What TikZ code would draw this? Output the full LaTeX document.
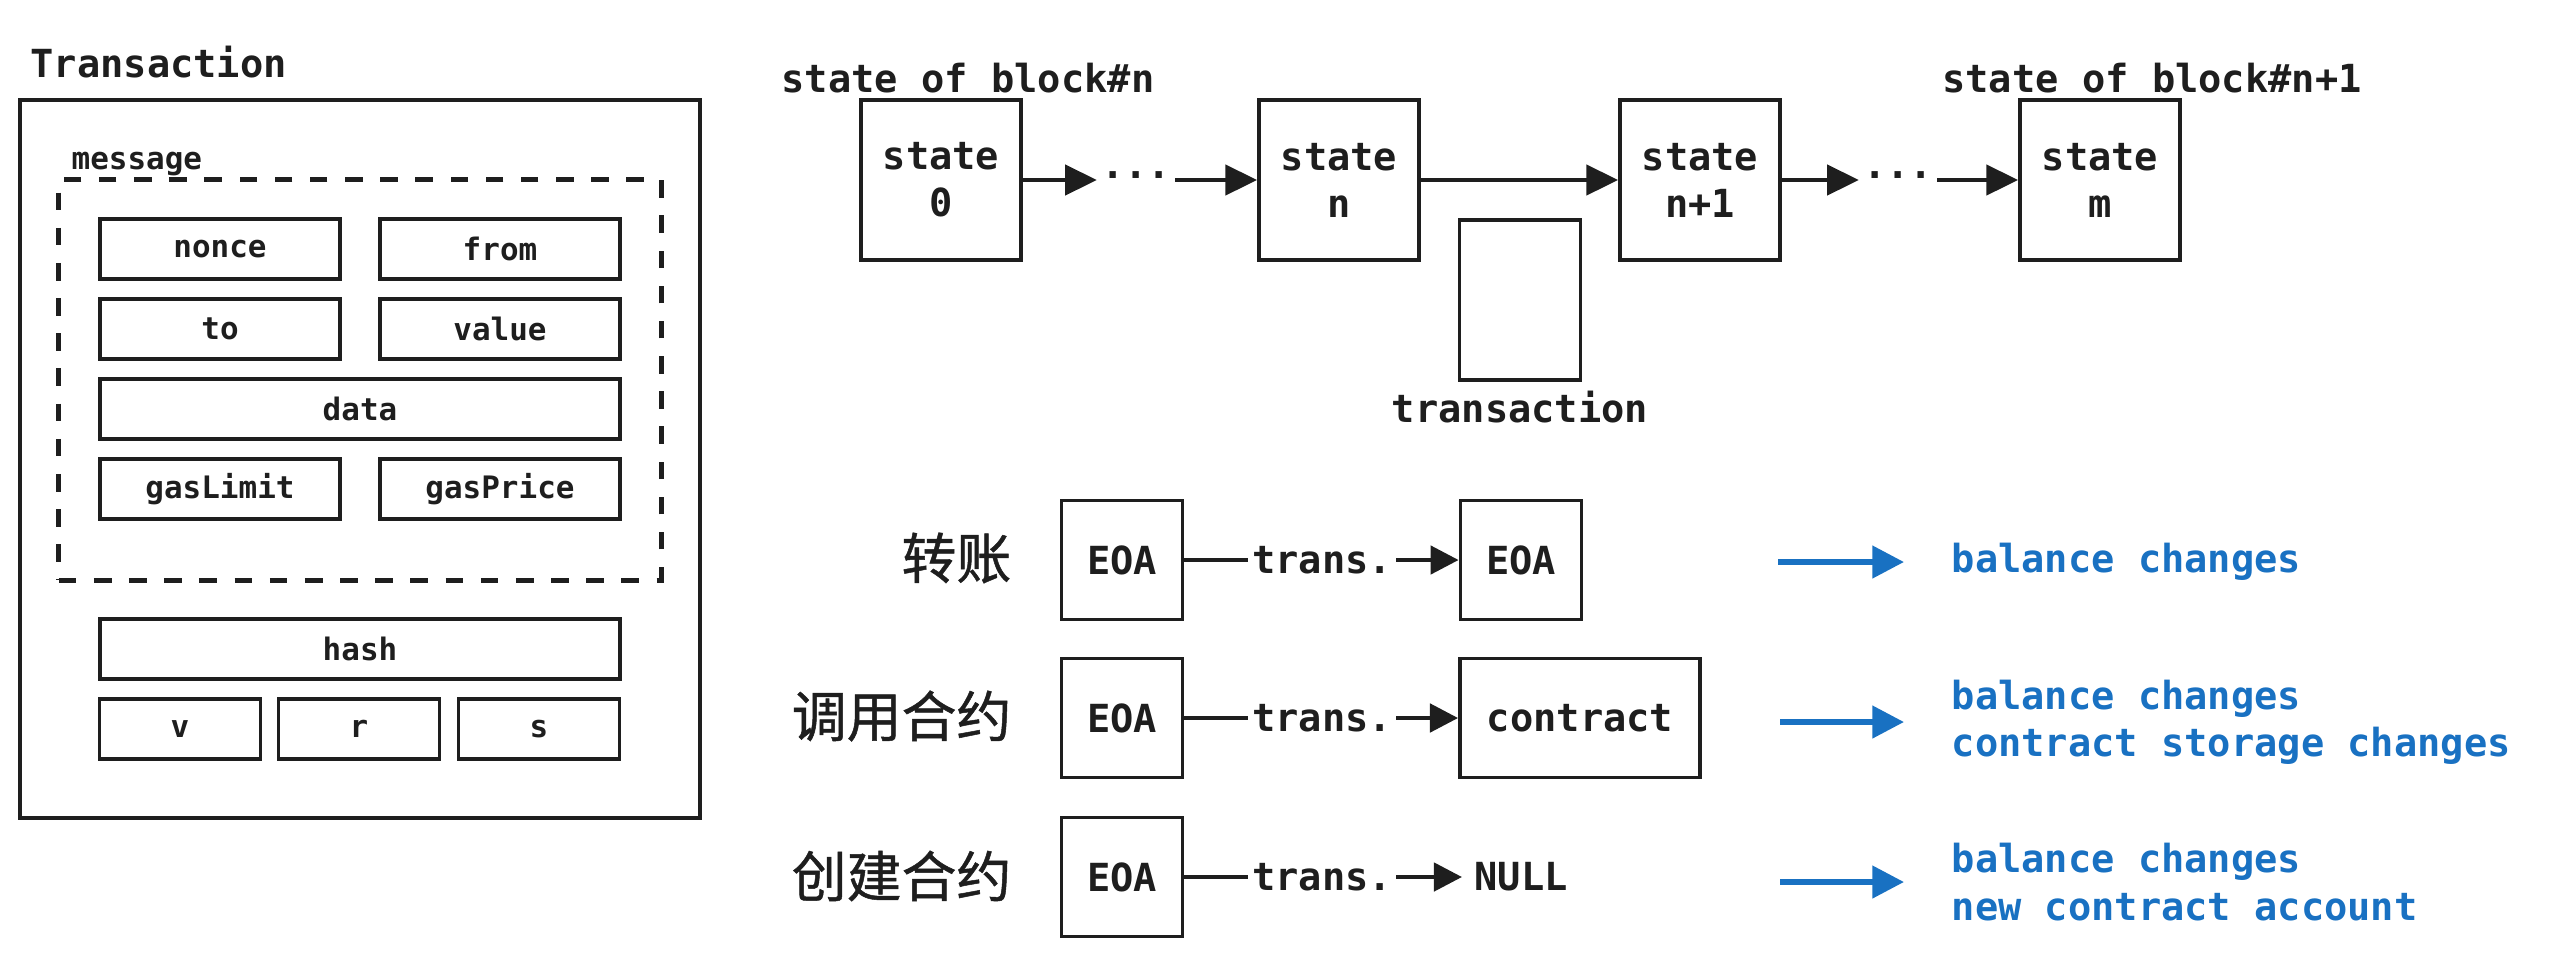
\documentclass[tikz,border=0pt]{standalone}
\usepackage{fontspec}
\setmonofont{DejaVu Sans Mono}
\newfontfamily\cjkfont{Noto Sans CJK SC}[FakeBold=0.9]
\usetikzlibrary{positioning,arrows.meta}
\definecolor{ink}{HTML}{1E1E1E}
\definecolor{note}{HTML}{1971C2}

\begin{document}
\begin{tikzpicture}[x=0.01cm, y=-0.01cm, color=ink, font=\ttfamily\bfseries\fontsize{11pt}{13.4pt}\selectfont]
    \tikzset{field/.style={draw, line width=1.05pt, minimum width=2.4cm, minimum height=0.6cm, inner sep=0pt, font=\ttfamily\bfseries\fontsize{8.8pt}{10pt}\selectfont},
             statebox/.style={draw, line width=1.05pt, minimum width=1.6cm, minimum height=1.6cm, inner sep=0pt, align=center},
             eoabox/.style={draw, line width=1.05pt, minimum width=1.21cm, minimum height=1.19cm, inner sep=0pt},
             myarrow/.style={-{Triangle[length=9pt, width=8.5pt]}, line width=1.3pt},
             bluearrow/.style={-{Triangle[length=9pt, width=9pt]}, line width=1.6pt, note, shorten >=0.47cm},
             result/.style={note, anchor=west, align=left, inner sep=0pt},
             cjk/.style={anchor=east, inner sep=0pt, font=\cjkfont\fontsize{15.6pt}{18pt}\selectfont}}

    \useasboundingbox (0,0) rectangle (2560,960);

    % transaction fields
    \draw node[anchor=west, inner sep=0pt] (txtitle) at (30,62) {Transaction};
    \draw node[draw, line width=1.05pt, minimum width=6.8cm, minimum height=7.18cm] (txbox) at (360,459) {};
    \draw node[draw, dashed, dash pattern=on 5pt off 5pt, line width=1.4pt, minimum width=6.02cm, minimum height=4cm] (msgbox) at (360,380) {};
    \draw node[anchor=base west, inner sep=0pt, font=\ttfamily\bfseries\fontsize{8.8pt}{10pt}\selectfont] (msgtitle) at (71,169) {message};
    \draw node[field] (nonce) at (220,249) {nonce};
    \draw node[field] (from) at (500,249) {from};
    \draw node[field] (to) at (220,329) {to};
    \draw node[field] (value) at (500,329) {value};
    \draw node[field, minimum width=5.2cm] (data) at (360,409) {data};
    \draw node[field] (gaslimit) at (220,489) {gasLimit};
    \draw node[field] (gasprice) at (500,489) {gasPrice};
    \draw node[field, minimum width=5.2cm] (hash) at (360,649) {hash};
    \draw node[field, minimum width=1.61cm] (sigv) at (180,729) {v};
    \draw node[field, minimum width=1.61cm] (sigr) at (359,729) {r};
    \draw node[field, minimum width=1.61cm] (sigs) at (539,729) {s};

    % state chain
    \draw node (blockn) at (968,78) {state of block\#n};
    \draw node (blocknext) at (2152,78) {state of block\#n+1};
    \draw node[statebox] (state0) at (941,180) {state\\0};
    \draw node[inner xsep=1pt, inner ysep=0pt] (dotsa) at (1136,180) {···};
    \draw node[statebox] (staten) at (1339,180) {state\\n};
    \draw node[statebox] (statenext) at (1700,180) {state\\n+1};
    \draw node[inner xsep=1pt, inner ysep=0pt] (dotsb) at (1898,180) {···};
    \draw node[statebox] (statem) at (2100,180) {state\\m};
    \draw node[draw, line width=1.05pt, minimum width=1.21cm, minimum height=1.6cm] (txrect) at (1520,300) {};
    \draw node (txlabel) at (1520,407) {transaction};

    \draw[myarrow] (state0) -- (dotsa);
    \draw[myarrow] (dotsa) -- (staten);
    \draw[myarrow] (staten) -- (statenext);
    \draw[myarrow] (statenext) -- (dotsb);
    \draw[myarrow] (dotsb) -- (statem);

    % three kinds of transaction
    \draw node[cjk] (transfer) at (1012,558) {转账};
    \draw node[cjk] (call) at (1012,716) {调用合约};
    \draw node[cjk] (create) at (1012,876) {创建合约};

    \draw node[eoabox] (eoaa) at (1122,560) {EOA};
    \draw node[eoabox] (eoab) at (1122,718) {EOA};
    \draw node[eoabox] (eoac) at (1122,877) {EOA};
    \draw node[inner xsep=1pt] (transa) at (1322,560) {trans.};
    \draw node[inner xsep=1pt] (transb) at (1322,718) {trans.};
    \draw node[inner xsep=1pt] (transc) at (1322,877) {trans.};
    \draw node[eoabox] (eoato) at (1521,560) {EOA};
    \draw node[eoabox, minimum width=2.4cm] (contract) at (1580,718) {contract};
    \draw node[anchor=west] (null) at (1462,877) {NULL};

    \draw[line width=1.3pt] (eoaa) -- (transa);
    \draw[line width=1.3pt] (eoab) -- (transb);
    \draw[line width=1.3pt] (eoac) -- (transc);
    \draw[myarrow, -{Triangle[length=8pt, width=8pt]}] (transa) -- (eoato);
    \draw[myarrow, -{Triangle[length=8pt, width=8pt]}] (transb) -- (contract);
    \draw[myarrow, -{Triangle[length=8pt, width=8pt]}] (transc) -- (null);

    % effects
    \draw node[result] (resa) at (1951,562) {balance changes};
    \draw node[result] (resb) at (1951,722) {balance changes\\contract storage changes};
    \draw node[result] (resc) at (1951,882) {balance changes\\new contract account};
    \coordinate (starta) at (1778,562);
    \coordinate (startb) at (1780,722);
    \coordinate (startc) at (1780,882);
    \draw[bluearrow] (starta) -- (starta -| resa.west);
    \draw[bluearrow] (startb) -- (startb -| resb.west);
    \draw[bluearrow] (startc) -- (startc -| resc.west);
\end{tikzpicture}
\end{document}
